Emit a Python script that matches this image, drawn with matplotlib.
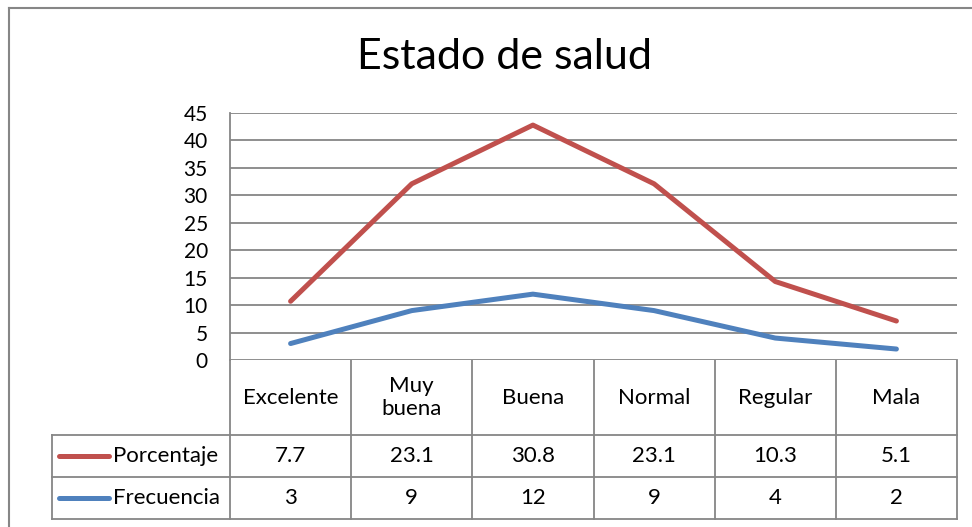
import matplotlib
matplotlib.use("Agg")
import matplotlib.pyplot as plt
import numpy as np

categories = ["Excelente", "Muy\nbuena", "Buena", "Normal", "Regular", "Mala"]
porcentaje = [7.7, 23.1, 30.8, 23.1, 10.3, 5.1]
frecuencia = [3, 9, 12, 9, 4, 2]
yticks = [0, 5, 10, 15, 20, 25, 30, 35, 40, 45]
title = "Estado de salud"

W, H = 972, 527
FONT = "Lato"
RED = "#C0504D"
BLUE = "#4F81BD"
GRID = "#868686"

fig = plt.figure(figsize=(W / 100, H / 100), dpi=100)

# plot area pixels
L, R, T, B = 230, 957, 113, 360
ax = fig.add_axes([L / W, 1 - B / H, (R - L) / W, (B - T) / H])
x = np.arange(len(categories))
stacked = np.array(porcentaje) + np.array(frecuencia)  # stacked line chart
ax.plot(x, frecuencia, color=BLUE, lw=3.6, solid_capstyle="round", solid_joinstyle="round", zorder=3)
ax.plot(x, stacked, color=RED, lw=3.6, solid_capstyle="round", solid_joinstyle="round", zorder=3)
ax.set_xlim(-0.5, len(categories) - 0.5)
ax.set_ylim(0, 45)
ax.set_yticks(yticks)
ax.set_yticklabels([str(v) for v in yticks], fontsize=15, family=FONT)
ax.tick_params(axis="y", length=0, pad=16)
ax.set_xticks([])
ax.grid(axis="y", color=GRID, lw=1.3)
ax.set_axisbelow(True)
for s in ["top", "right", "bottom"]:
    ax.spines[s].set_visible(False)
ax.spines["left"].set_color(GRID)
ax.spines["left"].set_linewidth(1.3)

# Overlay in pixel coordinates for table frame, border, title
ov = fig.add_axes([0, 0, 1, 1], zorder=-1)
ov.set_xlim(0, W)
ov.set_ylim(H, 0)
ov.axis("off")
ov.patch.set_alpha(0)

# outer chart border
ov.plot([9, 9], [H + 5, 8], color=GRID, lw=1.5)
ov.plot([9, W + 5], [8, 8], color=GRID, lw=1.5)

ov.text(504, 57, title, ha="center", va="center", fontsize=31, family=FONT, color="black")

# table
r0, r1, r2, r3 = 360, 435, 477, 519
LL = 52
cw = (R - L) / len(categories)
tl = dict(color=GRID, lw=1.3)
for yy in [r1, r2, r3]:
    ov.plot([LL, R], [yy, yy], **tl)
for i in range(len(categories) + 1):
    xx = L + i * cw
    ov.plot([xx, xx], [r0, r3], **tl)
ov.plot([LL, LL], [r1, r3], **tl)

fs = 16
tr = ax.get_xaxis_transform()
def yax(py):
    return (B - py) / (B - T)
for i, c in enumerate(categories):
    ax.text(i, yax((r0 + r1) / 2), c, transform=tr, ha="center", va="center",
            fontsize=fs, family=FONT, clip_on=False, linespacing=1.15)
    ax.text(i, yax((r1 + r2) / 2), f"{porcentaje[i]}", transform=tr, ha="center", va="center",
            fontsize=fs, family=FONT, clip_on=False)
    ax.text(i, yax((r2 + r3) / 2), f"{frecuencia[i]}", transform=tr, ha="center", va="center",
            fontsize=fs, family=FONT, clip_on=False)

# legend keys in table
for name, col, (ya, yb) in [("Porcentaje", RED, (r1, r2)), ("Frecuencia", BLUE, (r2, r3))]:
    ym = (ya + yb) / 2
    ov.plot([59, 109], [ym, ym], color=col, lw=3.6, solid_capstyle="round")
    ov.text(113, ym, name, ha="left", va="center", fontsize=fs, family=FONT)

fig.savefig("out.png", dpi=100)
